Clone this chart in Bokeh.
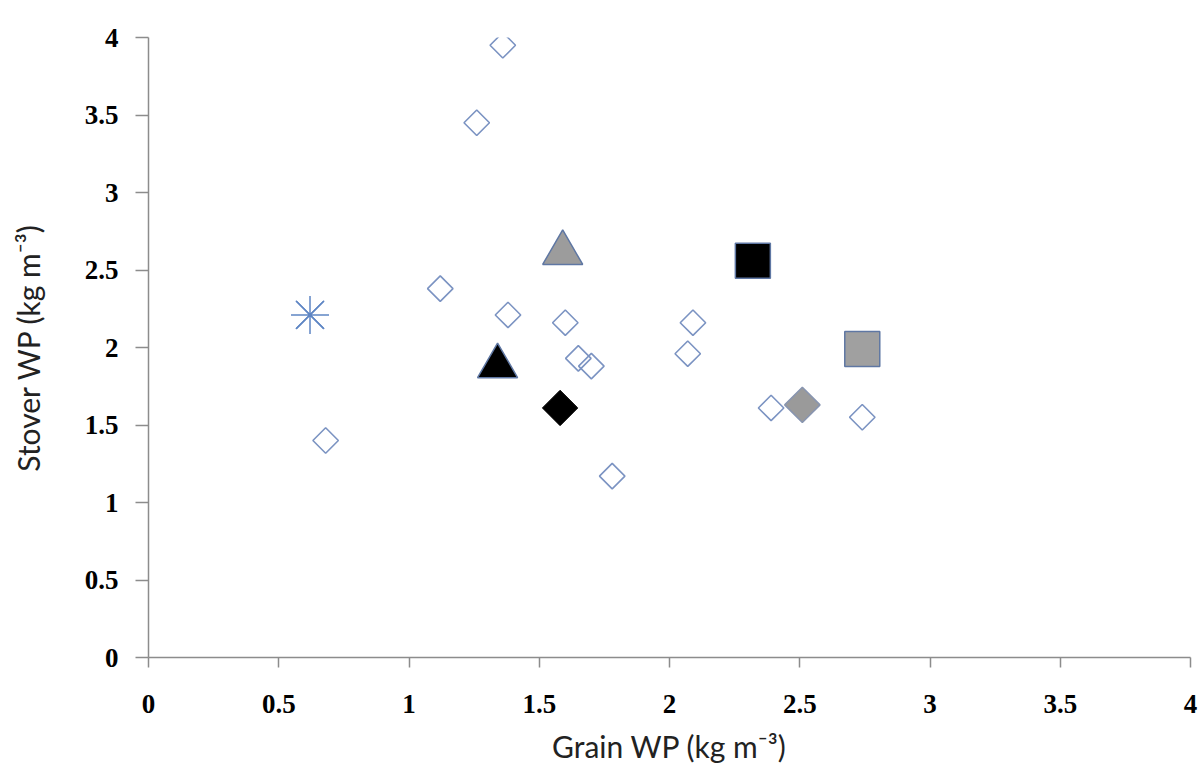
import numpy as np
from bokeh.plotting import figure
from bokeh.models import Range1d, FixedTicker, CustomJSTickFormatter
from bokeh.embed import file_html
from bokeh.resources import INLINE

# Open diamonds (other studies)
open_x = [1.36, 1.26, 1.12, 1.38, 1.60, 1.65, 1.70, 0.68, 1.78, 2.09, 2.07, 2.39, 2.74]
open_y = [3.95, 3.45, 2.38, 2.21, 2.16, 1.93, 1.88, 1.40, 1.17, 2.16, 1.96, 1.61, 1.55]

# Asterisk
star_x = [0.62]
star_y = [2.21]

# Triangles
gray_tri_x = [1.59]
gray_tri_y = [2.61]
black_tri_x = [1.34]
black_tri_y = [1.88]

# Filled diamonds
black_dia_x = [1.58]
black_dia_y = [1.61]
gray_dia_x = [2.51]
gray_dia_y = [1.63]

# Squares
black_sq_x = [2.32]
black_sq_y = [2.56]
gray_sq_x = [2.74]
gray_sq_y = [1.99]

ticks = [0, 0.5, 1, 1.5, 2, 2.5, 3, 3.5, 4]

p = figure(width=1202, height=767, output_backend="svg", toolbar_location=None,
           x_range=Range1d(0, 4), y_range=Range1d(0, 4),
           min_border_left=148, min_border_right=12, min_border_top=37, min_border_bottom=110)
p.outline_line_color = None
p.grid.visible = False
p.background_fill_color = "white"

outline_blue = "#7B93C2"
dark_outline = "#5F77A3"

p.scatter(open_x, open_y, marker="square", angle=np.pi / 4, size=18,
          fill_alpha=0, line_color=outline_blue, line_width=1.6)
p.scatter(star_x, star_y, marker="asterisk", size=38, line_color="#5F86C4", line_width=1.5)
p.scatter(star_x, star_y, marker="x", size=40, line_color="#5F86C4", line_width=1.5)
p.scatter(gray_tri_x, gray_tri_y, marker="triangle", size=40, fill_color="#9C9C9C",
          line_color=dark_outline, line_width=1.5)
p.scatter(black_tri_x, black_tri_y, marker="triangle", size=40, fill_color="black",
          line_color=dark_outline, line_width=1.5)
p.scatter(black_dia_x, black_dia_y, marker="square", angle=np.pi / 4, size=25,
          fill_color="black", line_color="black", line_width=1)
p.scatter(gray_dia_x, gray_dia_y, marker="square", angle=np.pi / 4, size=25,
          fill_color="#9A9A9A", line_color="#8895B0", line_width=1.5)
p.scatter(black_sq_x, black_sq_y, marker="square", size=35, fill_color="black",
          line_color=dark_outline, line_width=1.5)
p.scatter(gray_sq_x, gray_sq_y, marker="square", size=35, fill_color="#A0A0A0",
          line_color=dark_outline, line_width=1.5)

fmt = CustomJSTickFormatter(code="return (Math.round(tick*10)/10).toString();")
for ax in (p.xaxis[0], p.yaxis[0]):
    ax.ticker = FixedTicker(ticks=ticks)
    ax.formatter = fmt
    ax.minor_tick_line_color = None
    ax.axis_line_color = "#8C8C8C"
    ax.axis_line_width = 1.5
    ax.major_tick_line_color = "#8C8C8C"
    ax.major_tick_line_width = 1.5
    ax.major_tick_in = 0
    ax.major_label_text_font = "Liberation Serif"
    ax.major_label_text_font_style = "bold"
    ax.major_label_text_font_size = "27px"
    ax.major_label_text_color = "black"
    ax.axis_label_text_font = "Lato"
    ax.axis_label_text_font_style = "normal"
    ax.axis_label_text_font_size = "30px"
    ax.axis_label_text_color = "#222222"

p.xaxis.major_tick_out = 10
p.yaxis.major_tick_out = 13
p.xaxis.major_label_standoff = 27
p.yaxis.major_label_standoff = 17
p.xaxis.axis_label = "Grain WP (kg m\u207b\u00b3)"
p.yaxis.axis_label = "Stover WP (kg m\u207b\u00b3)"
p.xaxis.axis_label_standoff = 12
p.yaxis.axis_label_standoff = 36

open("out.html", "w").write(file_html(p, INLINE))
